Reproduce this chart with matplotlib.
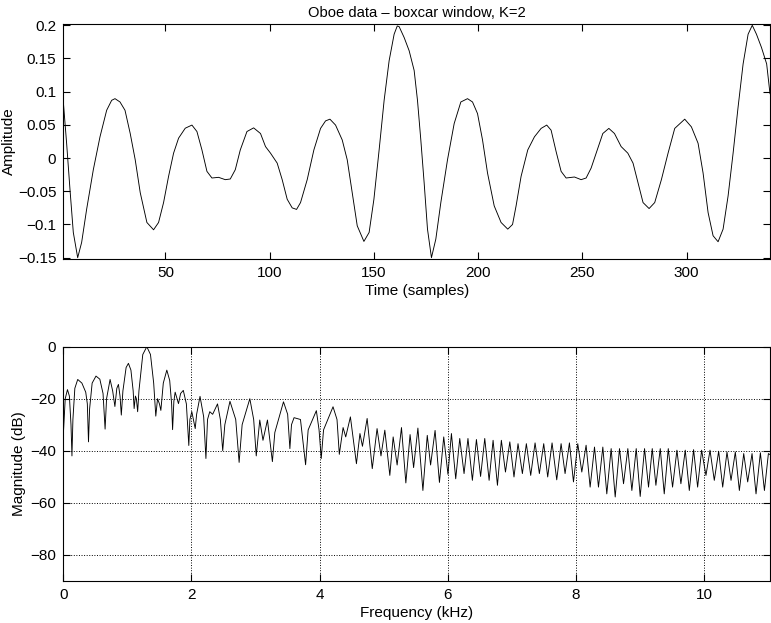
import matplotlib
matplotlib.use("Agg")
import matplotlib.pyplot as plt

plt.rcParams['font.family'] = ['Liberation Sans', 'DejaVu Sans']

# ---------------- data ----------------
# Top panel: oboe waveform (sample index, amplitude)
time_samples = [1, 2.6, 4.2, 5.8, 7.9, 9.8, 12.2, 15.4, 18.6, 21.8, 24.2, 25.8, 28.2, 30.6,
                33.1, 35.5, 37.9, 41.1, 44.3, 46.7, 49.1, 51.5, 53.9, 56.3, 59.5, 62.7, 65.1,
                67.5, 69.9, 72.3, 75.5, 78.7, 81.1, 83.5, 85.9, 89.1, 92.3, 95.6, 98.0, 100.4,
                103.6, 106.0, 108.4, 110.8, 112.9, 114.8, 118.0, 121.2, 124.4, 126.8, 128.9,
                131.6, 134.8, 137.2, 139.6, 142.0, 145.2, 147.7, 150.0, 152.5, 154.9, 157.3,
                159.7, 161.2, 162.1, 164.5, 166.9, 169.3, 170.9, 172.5, 174.1, 175.7, 177.6, 179.7,
                182.1, 185.3, 188.5, 191.7, 194.9, 197.3, 199.7, 202.1, 204.5, 207.7, 211.0,
                214.2, 216.5, 218.2, 220.6, 223.8, 227.0, 230.2, 232.9, 235.0, 237.4, 239.8,
                242.2, 246.2, 249.4, 251.8, 254.2, 256.6, 259.8, 262.7, 265.4, 268.6, 271.8,
                274.3, 276.7, 279.1, 282.0, 284.7, 287.9, 291.1, 294.3, 299.1, 302.3, 305.5,
                307.9, 310.3, 312.7, 315.1, 317.5, 319.9, 322.3, 324.7, 327.1, 329.5, 331.5,
                333.5, 335.9, 338.4, 340]
amplitude = [0.085, 0.022, -0.047, -0.112, -0.150, -0.127, -0.077, -0.0175, 0.032, 0.072,
             0.087, 0.0895, 0.0845, 0.072, 0.037, -0.0026, -0.052, -0.097, -0.108, -0.097,
             -0.067, -0.0275, 0.0074, 0.030, 0.045, 0.0497, 0.040, 0.0123, -0.020, -0.030,
             -0.029, -0.0325, -0.0315, -0.0175, 0.0123, 0.040, 0.0455, 0.037, 0.0173, 0.0074,
             -0.0076, -0.0325, -0.062, -0.075, -0.0773, -0.067, -0.0325, 0.0123, 0.0447,
             0.056, 0.0586, 0.0497, 0.0273, -0.0026, -0.052, -0.102, -0.1255, -0.112, -0.062,
             0.0123, 0.087, 0.1467, 0.1866, 0.199, 0.198, 0.1816, 0.1617, 0.132, 0.087, 0.0273,
             -0.0374, -0.107, -0.150, -0.122, -0.067, -0.0026, 0.052, 0.0845, 0.0895, 0.0845,
             0.067, 0.0273, -0.0225, -0.072, -0.097, -0.107, -0.100, -0.072, -0.0275, 0.0123,
             0.032, 0.0447, 0.0497, 0.042, 0.0098, -0.020, -0.030, -0.0285, -0.0325, -0.030,
             -0.015, 0.0074, 0.037, 0.0447, 0.037, 0.0173, 0.0074, -0.0076, -0.0374, -0.067,
             -0.076, -0.067, -0.0325, 0.0074, 0.0447, 0.0586, 0.047, 0.0223, -0.0225, -0.082,
             -0.117, -0.126, -0.107, -0.057, 0.0074, 0.077, 0.1418, 0.1866, 0.2, 0.1866,
             0.1667, 0.1418, 0.097]

# Bottom panel: magnitude spectrum (kHz, dB)
freq_khz = [0.000, 0.030, 0.065, 0.095, 0.120, 0.135, 0.150, 0.180, 0.225, 0.290, 0.350,
            0.375, 0.393, 0.410, 0.450, 0.510, 0.570, 0.620, 0.652, 0.675, 0.730, 0.770,
            0.805, 0.835, 0.860, 0.885, 0.905, 0.930, 0.980, 1.016, 1.055, 1.090, 1.105,
            1.125, 1.140, 1.160, 1.180, 1.240, 1.303, 1.360, 1.410, 1.443, 1.470, 1.500,
            1.522, 1.560, 1.615, 1.660, 1.690, 1.705, 1.725, 1.745, 1.775, 1.797, 1.830,
            1.872, 1.920, 1.958, 1.975, 2.005, 2.030, 2.058, 2.080, 2.133, 2.190, 2.225,
            2.250, 2.285, 2.330, 2.406, 2.450, 2.487, 2.520, 2.600, 2.690, 2.743, 2.790,
            2.910, 2.970, 3.010, 3.065, 3.115, 3.185, 3.262, 3.300, 3.435, 3.500, 3.535,
            3.560, 3.600, 3.700, 3.780, 3.820, 3.948, 3.990, 4.024, 4.060, 4.208, 4.270,
            4.306, 4.365, 4.406, 4.479, 4.573, 4.628, 4.667, 4.740, 4.820, 4.895, 4.956,
            5.016, 5.094, 5.146, 5.208, 5.276, 5.344, 5.410, 5.465, 5.532, 5.610, 5.678,
            5.730, 5.800, 5.868, 5.935, 6.001, 6.055, 6.122, 6.185, 6.252, 6.313, 6.382,
            6.445, 6.510, 6.575, 6.643, 6.705, 6.773, 6.834, 6.898, 6.966, 7.031, 7.094,
            7.162, 7.224, 7.292, 7.360, 7.427, 7.495, 7.557, 7.625, 7.698, 7.766, 7.828,
            7.896, 7.959, 8.026, 8.089, 8.156, 8.219, 8.287, 8.349, 8.417, 8.479, 8.547,
            8.610, 8.677, 8.740, 8.807, 8.870, 8.938, 9.000, 9.068, 9.130, 9.188, 9.245,
            9.313, 9.375, 9.438, 9.505, 9.573, 9.635, 9.703, 9.766, 9.833, 9.896, 9.958,
            10.026, 10.089, 10.156, 10.224, 10.287, 10.354, 10.417, 10.484, 10.547, 10.615,
            10.677, 10.745, 10.807, 10.875, 10.938, 11.000, 11.025]
mag_db = [-34, -20, -16.5, -19, -30, -42, -28, -16, -12.6, -14, -17.5,
          -22, -36.6, -24, -14, -11.3, -12.5, -18, -31.7, -20, -12.6, -17,
          -23, -16, -14.5, -19, -26.3, -17, -8, -6.4, -9, -17, -23.8,
          -19, -20, -25, -17, -3, 0, -3, -14, -26.7, -20, -22,
          -24.5, -14, -9, -13, -22, -31.9, -21, -17.5, -20, -21.9, -18,
          -16.8, -22, -38, -28, -25, -28, -31.5, -26, -19.1, -27, -43,
          -28, -25, -26, -22, -28, -40, -30, -21, -28, -44.5, -30,
          -20, -28, -42, -28.2, -36, -28.2, -44.2, -33, -21.2, -26, -39.2,
          -30, -27.3, -28, -45.4, -32, -24.6, -32, -43, -32, -23.1, -28,
          -41.4, -31.1, -34.7, -27, -45, -33.4, -38.3, -27.6, -46.9, -31.5, -42,
          -32.1, -49.5, -34.7, -45.5, -31.1, -52.4, -33.8, -46.5, -31.3, -55.3, -34.1,
          -45.5, -32.2, -52.2, -34.7, -49.1, -33.4, -50.8, -35.3, -48.8, -35.3, -51.4,
          -35.7, -49.9, -35.3, -51.4, -36, -53.3, -36, -48.2, -36.6, -50.1, -37.3,
          -48.8, -37.3, -49.5, -37.0, -48.8, -37.3, -50.1, -37.0, -51.2, -37.3, -48.8,
          -37.0, -52, -37.3, -48.2, -37.9, -54, -38.6, -54, -38.6, -56.6, -39.2,
          -57.8, -39.2, -52.7, -39.2, -55.3, -39.2, -57.6, -39.2, -54, -39.2, -53.3,
          -39.2, -56.6, -39.2, -54, -39.8, -52.7, -39.8, -55.3, -39.6, -54, -39.8,
          -49.5, -39.8, -51.4, -40.2, -54, -40.5, -51.4, -40.5, -55.3, -41.1,
          -52, -41.1, -56.6, -40.8, -55.3, -41.1, -41.5]

# ---------------- figure ----------------
fig = plt.figure(figsize=(7.71, 6.23), dpi=100)
ax1 = fig.add_axes([0.0821, 0.5848, 0.9166, 0.3762])
ax2 = fig.add_axes([0.0821, 0.0679, 0.9166, 0.3756])

ax1.plot(time_samples, amplitude, color='black', lw=0.65)
ax1.set_xlim(1, 340)
ax1.set_ylim(-0.1515, 0.2015)
ax1.set_xticks([50, 100, 150, 200, 250, 300])
ax1.set_yticks([-0.15, -0.1, -0.05, 0, 0.05, 0.1, 0.15, 0.2])
ax1.set_yticklabels(['\u22120.15', '\u22120.1', '\u22120.05', '0', '0.05', '0.1', '0.15', '0.2'])
ax1.set_xlabel('Time (samples)', fontsize=11, labelpad=3)
ax1.set_ylabel('Amplitude', fontsize=11, labelpad=1)
ax1.set_title('Oboe data \u2013 boxcar window, K=2', fontsize=10.6, pad=5)

ax2.plot(freq_khz, mag_db, color='black', lw=0.65)
ax2.set_xlim(0, 11.025)
ax2.set_ylim(-90, 0)
ax2.set_xticks([0, 2, 4, 6, 8, 10])
ax2.set_yticks([-80, -60, -40, -20, 0])
ax2.set_yticklabels(['\u221280', '\u221260', '\u221240', '\u221220', '0'])
ax2.grid(True, linestyle=':', color='black', linewidth=0.7)
ax2.set_xlabel('Frequency (kHz)', fontsize=11, labelpad=3)
ax2.set_ylabel('Magnitude (dB)', fontsize=11, labelpad=3)

for ax in (ax1, ax2):
    ax.tick_params(direction='in', top=True, right=True, length=5, width=0.8,
                   labelsize=11, pad=5)
    for s in ax.spines.values():
        s.set_linewidth(0.8)

fig.savefig('out.png', dpi=100)
